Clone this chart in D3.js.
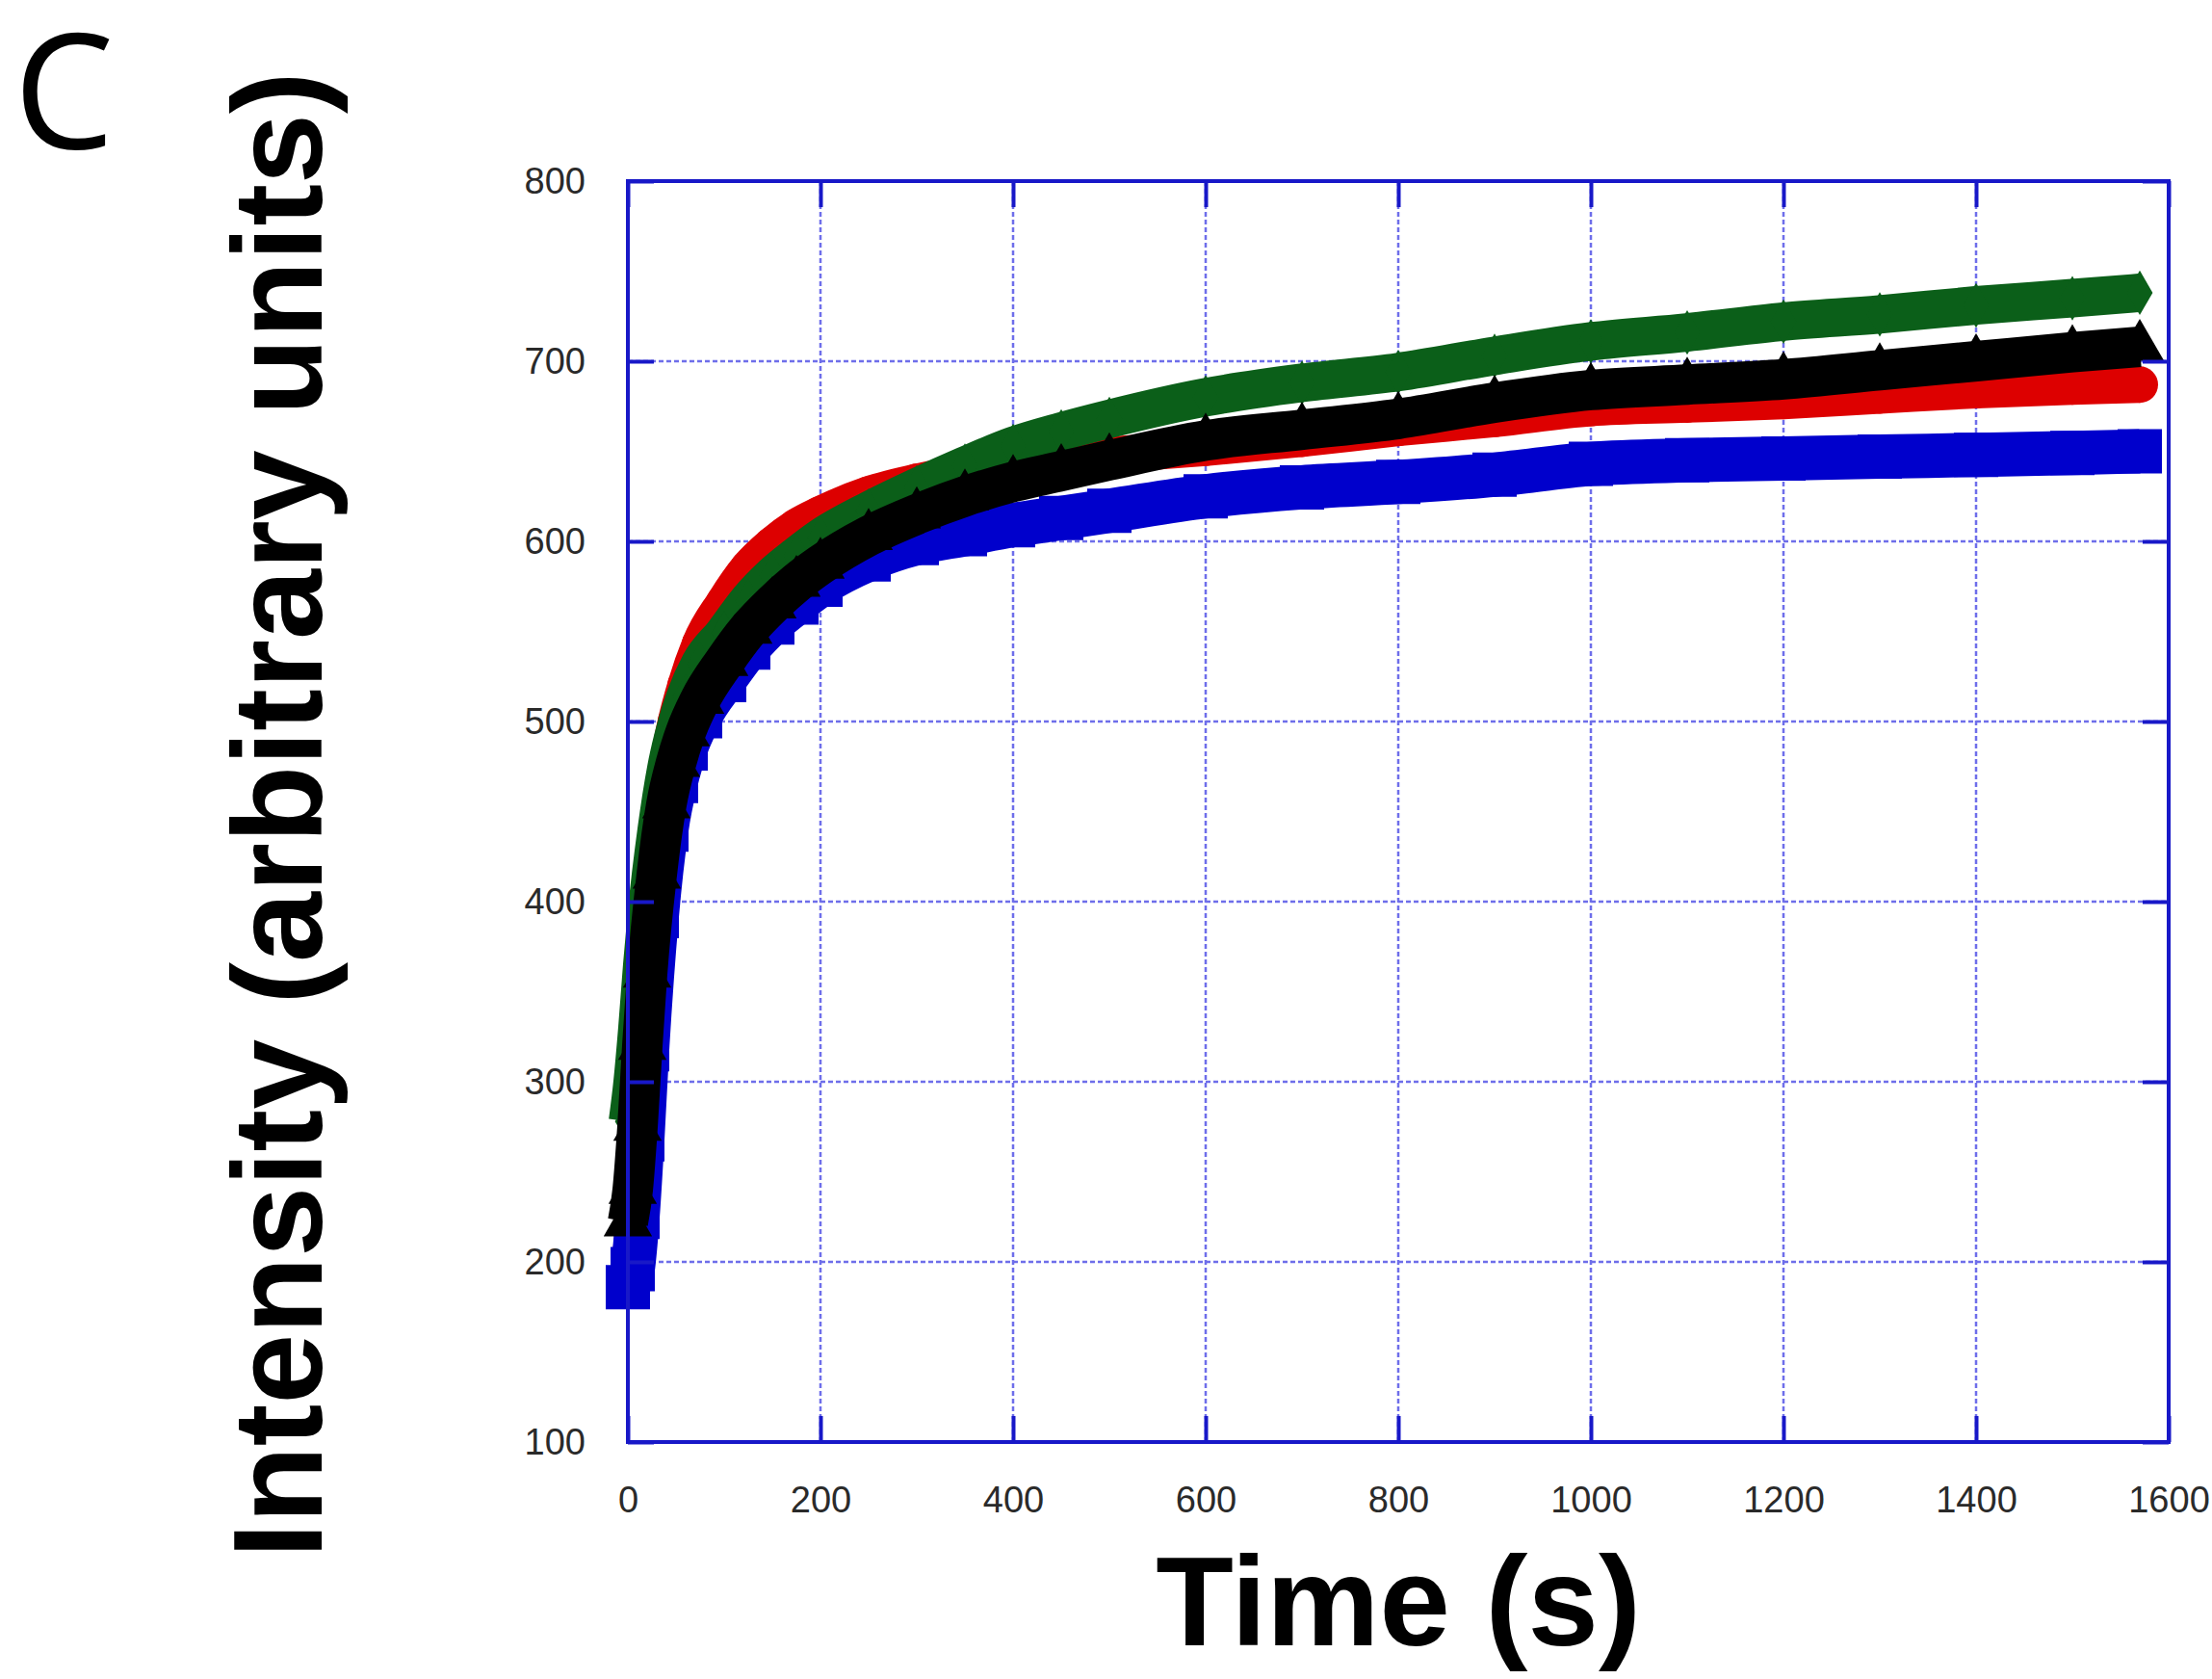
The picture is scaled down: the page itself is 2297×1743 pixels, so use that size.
<!DOCTYPE html>
<html>
<head>
<meta charset="utf-8">
<script src="https://cdn.jsdelivr.net/npm/d3@7"></script>
<style>
  html, body { margin: 0; padding: 0; background: #fff; }
</style>
</head>
<body>
<svg id="chart" width="2297" height="1743"></svg>
<script>
// sample times (s)
const times = [0, 5, 10, 15, 20, 30, 40, 50, 60, 75, 100, 125, 150, 175, 200, 250, 300,
  350, 400, 450, 500, 600, 700, 800, 900, 1000, 1100, 1200, 1300, 1400, 1500, 1570];

const redValues = [192, 215, 262, 322, 372, 432, 472, 500, 520, 543, 566, 585, 598, 608, 615, 626, 633,
  638, 643, 646, 648, 652, 657, 663, 668, 674, 676, 678, 681, 684, 686, 687];
const blueValues = [186, 196, 225, 268, 318, 392, 440, 467, 485, 503, 523, 541, 555, 566, 576, 590, 599,
  604, 609, 613, 617, 625, 630, 633, 637, 643, 645, 646, 647, 648, 649, 650];
const greenValues = [278, 300, 330, 365, 395, 440, 474, 497, 514, 532, 549, 567, 581, 592, 602, 617, 630,
  642, 653, 661, 668, 680, 688, 694, 703, 711, 716, 722, 726, 731, 735, 738];
const blackValues = [222, 240, 275, 320, 360, 415, 454, 477, 494, 512, 533, 551, 565, 577, 587, 603, 615,
  625, 633, 639, 645, 656, 662, 668, 677, 684, 687, 690, 695, 700, 705, 708];

const xTicks = [0, 200, 400, 600, 800, 1000, 1200, 1400, 1600];
const yTicks = [100, 200, 300, 400, 500, 600, 700, 800];

const series = [
  { name: "red", values: redValues, color: "#dd0000", symbol: d3.symbolCircle, size: 1134, width: 38 },
  { name: "blue", values: blueValues, color: "#0000cc", symbol: d3.symbolSquare, size: 2116, width: 46 },
  { name: "green", values: greenValues, color: "#0b5f19", symbol: d3.symbolDiamond, size: 620, width: 40 },
  { name: "black", values: blackValues, color: "#000000", symbol: d3.symbolTriangle, size: 1100, width: 42 }
];

const svg = d3.select("#chart");
const frameColor = "#1818c8";
const plotLeft = 652, plotRight = 2252, plotTop = 188, plotBottom = 1497;

const x = d3.scaleLinear().domain([0, 1600]).range([plotLeft, plotRight]);
const y = d3.scaleLinear().domain([100, 800]).range([plotBottom, plotTop]);

// dashed grid
const grid = svg.append("g").attr("class", "grid")
  .attr("stroke", "#6e6eea").attr("stroke-width", 2.5).attr("stroke-dasharray", "5,3");
grid.selectAll("line.gx")
  .data(xTicks.slice(1, -1))
  .enter().append("line")
  .attr("x1", d => x(d)).attr("x2", d => x(d))
  .attr("y1", plotTop).attr("y2", plotBottom);
grid.selectAll("line.gy")
  .data(yTicks.slice(1, -1))
  .enter().append("line")
  .attr("x1", plotLeft).attr("x2", plotRight)
  .attr("y1", d => y(d)).attr("y2", d => y(d));

// data bands (dense markers in the original merge into thick bands)
const line = d3.line()
  .x((d, i) => x(times[i]))
  .y(d => y(d))
  .curve(d3.curveMonotoneX);

series.forEach(s => {
  const g = svg.append("g").attr("class", "series-" + s.name);
  g.append("path")
    .datum(s.values)
    .attr("d", line)
    .attr("fill", "none")
    .attr("stroke", s.color)
    .attr("stroke-width", s.width)
    .attr("stroke-linejoin", "round");
  g.selectAll("path.pt")
    .data(s.values)
    .enter().append("path")
    .attr("class", "pt")
    .attr("d", d3.symbol().type(s.symbol).size(s.size))
    .attr("transform", (d, i) => `translate(${x(times[i])},${y(d)})`)
    .attr("fill", s.color);
});

// axes with inward ticks
const tickFont = "'Liberation Sans', Arial, Helvetica, sans-serif";
const tickLen = 27;

function styleAxis(g) {
  g.select(".domain").remove();
  g.selectAll(".tick line").attr("stroke", frameColor).attr("stroke-width", 4);
  g.selectAll(".tick text")
    .attr("fill", "#2a2a2a")
    .attr("font-size", 38)
    .attr("font-family", tickFont);
}

svg.append("g")
  .attr("transform", `translate(0,${plotBottom})`)
  .call(d3.axisBottom(x).tickValues(xTicks).tickSize(-tickLen).tickPadding(46).tickFormat(d3.format("d")))
  .call(styleAxis);
svg.append("g")
  .attr("transform", `translate(0,${plotTop})`)
  .call(d3.axisTop(x).tickValues(xTicks).tickSize(-tickLen).tickFormat(""))
  .call(styleAxis);
svg.append("g")
  .attr("transform", `translate(${plotLeft},0)`)
  .call(d3.axisLeft(y).tickValues(yTicks).tickSize(-tickLen).tickPadding(44).tickFormat(d3.format("d")))
  .call(styleAxis);
svg.append("g")
  .attr("transform", `translate(${plotRight},0)`)
  .call(d3.axisRight(y).tickValues(yTicks).tickSize(-tickLen).tickFormat(""))
  .call(styleAxis);

// frame
svg.append("rect")
  .attr("x", plotLeft).attr("y", plotTop)
  .attr("width", plotRight - plotLeft).attr("height", plotBottom - plotTop)
  .attr("fill", "none")
  .attr("stroke", frameColor)
  .attr("stroke-width", 4);

// axis titles
svg.append("text")
  .attr("transform", "translate(334,846) rotate(-90)")
  .attr("text-anchor", "middle")
  .attr("font-family", tickFont)
  .attr("font-weight", "bold")
  .attr("font-size", 131)
  .attr("fill", "#000")
  .text("Intensity (arbitrary units)");

svg.append("text")
  .attr("x", 1452).attr("y", 1708)
  .attr("text-anchor", "middle")
  .attr("font-family", tickFont)
  .attr("font-weight", "bold")
  .attr("font-size", 132)
  .attr("fill", "#000")
  .text("Time (s)");

// panel letter
svg.append("text")
  .attr("x", 14).attr("y", 154)
  .attr("font-family", "'Open Sans', sans-serif")
  .attr("font-size", 166)
  .attr("fill", "#000")
  .text("C");
</script>
</body>
</html>
